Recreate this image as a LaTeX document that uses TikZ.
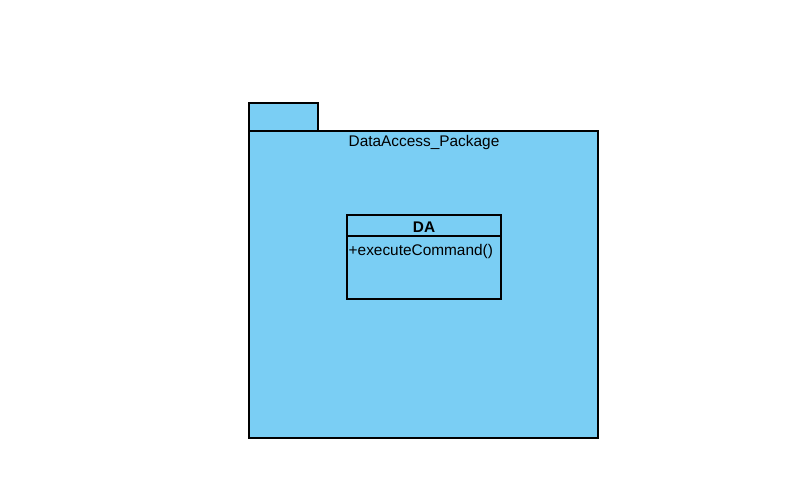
\documentclass[tikz,border=0pt]{standalone}
\usepackage{fontspec}
\setmainfont{Liberation Sans}
\definecolor{pkgblue}{HTML}{7ACEF4}
\tikzset{
  pkg/.style={draw=black, fill=pkgblue, line width=1.1pt},
  cls/.style={draw=black, fill=pkgblue, line width=1.1pt},
  lbl/.style={font=\fontsize{15.4}{17}\selectfont, inner sep=0pt},
}
\begin{document}
\begin{tikzpicture}[x=1pt,y=-1pt]
\useasboundingbox (0,0) rectangle (810,482);
\fill[white] (0,0) rectangle (810,482);
% tab and body
\draw[pkg] (249,103) rectangle (318,131);
\draw[pkg] (249,131) rectangle (598,438);
\node[lbl] (plabel) at (424,143) {DataAccess\_Package};
% class
\draw[cls] (347,215) rectangle (501,299);
\draw[line width=1.1pt] (347,236) -- (501,236);
\node[lbl, font=\fontsize{15.4}{17}\selectfont\bfseries] (cname) at (424,227) {DA};
\node[lbl, anchor=west] (op) at (348.5,251.5) {+executeCommand()};
\end{tikzpicture}
\end{document}
